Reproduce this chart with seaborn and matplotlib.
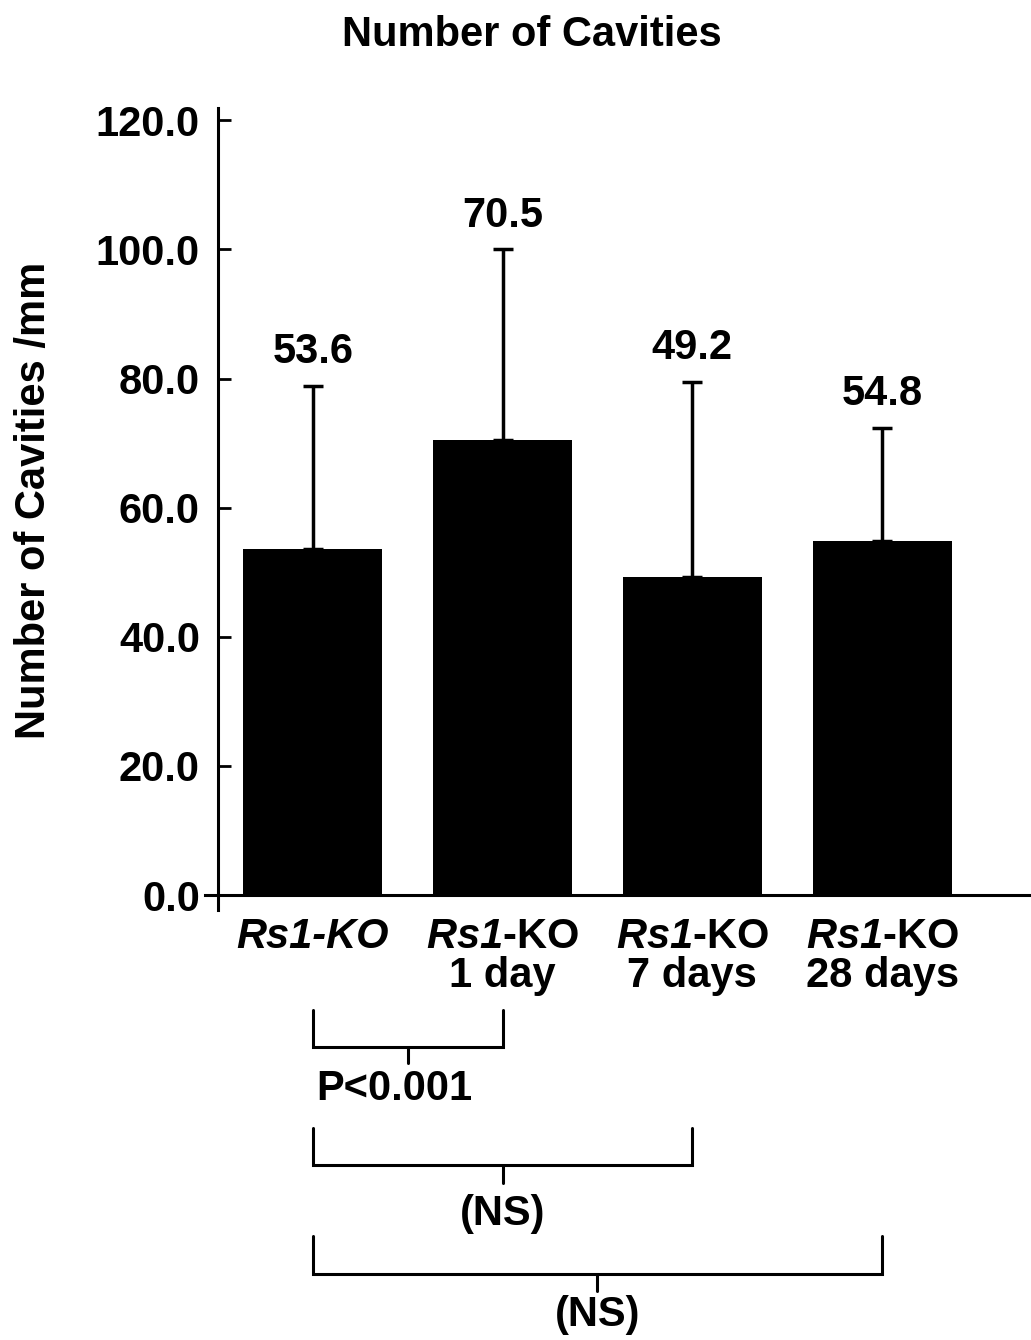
import numpy as np
import matplotlib
matplotlib.use("Agg")
import matplotlib.pyplot as plt
import seaborn as sns

# values
groups = ["Rs1-KO", "Rs1-KO 1 day", "Rs1-KO 7 days", "Rs1-KO 28 days"]
tick_text = ["Rs1-KO", "$Rs1$-KO\n1 day", "$Rs1$-KO\n7 days", "$Rs1$-KO\n28 days"]
means = [53.6, 70.5, 49.2, 54.8]
sds = [25.2, 29.5, 30.3, 17.6]
yticks = [0, 20, 40, 60, 80, 100, 120]

# comparisons under the axis: (first bar, second bar, label)
comparisons = [(0, 1, "P<0.001"), (0, 2, "(NS)"), (0, 3, "(NS)")]

sns.set_style("ticks")
plt.rcParams['font.family'] = ['Liberation Sans', 'DejaVu Sans']
plt.rcParams['font.weight'] = 'bold'
for k in ['text.color', 'axes.labelcolor', 'xtick.color', 'ytick.color', 'axes.edgecolor']:
    plt.rcParams[k] = 'black'
plt.rcParams['mathtext.fontset'] = 'custom'
plt.rcParams['mathtext.it'] = 'Liberation Sans:italic:bold'
plt.rcParams['mathtext.rm'] = 'Liberation Sans:italic:bold'
plt.rcParams['mathtext.bf'] = 'Liberation Sans:italic:bold'

fig = plt.figure(figsize=(10.31, 13.4), dpi=100)
ax = fig.add_axes([0.1988, 0.3209, 0.8012, 0.5985])

sns.barplot(x=groups, y=means, color='black', width=0.733, saturation=1,
            errorbar=None, linewidth=0, ax=ax)
ax.errorbar(range(len(means)), means, yerr=[np.zeros(len(sds)), sds], fmt='none',
            ecolor='black', elinewidth=2.5, capsize=7, capthick=2.5)

for i, (m, s) in enumerate(zip(means, sds)):
    ax.annotate(f"{m:.1f}", xy=(i, m + s), xytext=(0, 16.5), textcoords='offset points',
                ha='center', va='baseline', fontsize=30, fontweight='bold')

# spines first: moving them rebuilds the ticks
sns.despine(ax=ax)
ax.spines['bottom'].set_position(('data', 0))
ax.spines['left'].set_position(('data', -0.50))
for sp in ['left', 'bottom']:
    ax.spines[sp].set_linewidth(2.2)

ax.set_xlim(-0.569, 3.785)
ax.set_ylim(-2.3, 121.9)
ax.set_yticks(yticks)
ax.set_yticklabels([f"{v:.1f}" for v in yticks], fontsize=30, fontweight='bold')
ax.set_xticks(range(len(groups)))
ax.set_xticklabels(tick_text, fontsize=30, fontweight='bold', linespacing=0.95)
ax.get_xticklabels()[0].set_fontstyle('italic')
ax.tick_params(axis='y', direction='in', length=9, width=2, pad=13)
ax.tick_params(axis='x', length=0, pad=16)

ax.set_ylabel("Number of Cavities /mm", fontsize=30, fontweight='bold')
ax.yaxis.set_label_coords(-0.183, 0.511)
ax.set_xlabel("")

# significance brackets drawn below the axis
px = 6.45  # pixels per unit on y
def to_y(ypix):
    return (895 - ypix) / px

levels = [(1010, 1047, 1063, 1100), (1128, 1165, 1183, 1224), (1235, 1273, 1290, 1325)]
for (a, b, lab), (yt, yh, ys, yb) in zip(comparisons, levels):
    ax.plot([a, a, b, b], [to_y(yt), to_y(yh), to_y(yh), to_y(yt)], color='black',
            lw=2.2, clip_on=False, solid_joinstyle='miter')
    mid = (a + b) / 2
    ax.plot([mid, mid], [to_y(yh), to_y(ys)], color='black', lw=2.2, clip_on=False)
    if lab.startswith("P"):
        ax.text(a + 0.02, to_y(yb), lab, ha='left', va='baseline', fontsize=30, fontweight='bold')
    else:
        ax.text(mid, to_y(yb), lab, ha='center', va='baseline', fontsize=30, fontweight='bold')

fig.text(532 / 1031, 1 - 46 / 1340, "Number of Cavities", ha='center', va='baseline',
         fontsize=30, fontweight='bold')

fig.savefig("out.png", dpi=100)
